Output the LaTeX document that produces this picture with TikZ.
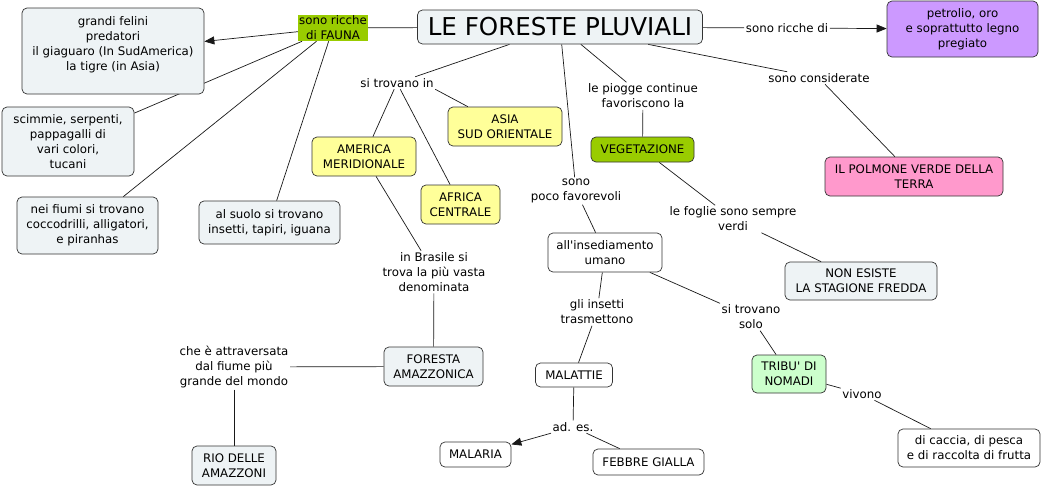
\documentclass[tikz,border=0pt]{standalone}
\usepackage{fontspec}
\setmainfont{DejaVu Sans}
\usetikzlibrary{arrows.meta, positioning}
\definecolor{boxgray}{RGB}{238, 243, 245}
\definecolor{faunagreen}{RGB}{153, 204, 0}
\definecolor{yellow1}{RGB}{255, 255, 153}
\definecolor{violet1}{RGB}{204, 153, 255}
\definecolor{pink1}{RGB}{255, 153, 204}
\definecolor{mint1}{RGB}{204, 255, 204}
\pgfdeclarelayer{background}
\pgfsetlayers{background,main}

\begin{document}
\begin{tikzpicture}[x=1pt, y=-1pt,
  concept/.style={draw=black!80, rounded corners=5pt, fill=boxgray, align=center, inner sep=1.5pt, line width=0.7pt, font=\fontsize{11.8}{15}\selectfont},
  link/.style={align=center, inner sep=1.5pt, font=\fontsize{11.8}{15}\selectfont},
  conn/.style={draw=black!90, line width=0.7pt},
  arr/.style={conn, -{Triangle[length=10pt, width=8pt]}}
]
  \useasboundingbox (0,0) rectangle (1042,488);

  % concepts
  \node[concept, minimum width=285pt, minimum height=34pt, font=\fontsize{24.6}{28}\selectfont] (title) at (560,27) {LE FORESTE PLUVIALI};
  \node[concept, minimum width=182pt, minimum height=86pt] (felini) at (113,51) {grandi felini\\predatori\\il giaguaro (In SudAmerica)\\la tigre (in Asia)\\\mbox{}};
  \node[concept, minimum width=132pt, minimum height=69pt] (scimmie) at (68,141.5) {scimmie, serpenti,\\pappagalli di\\vari colori,\\tucani};
  \node[concept, minimum width=141pt, minimum height=57pt] (fiumi) at (87.5,225.5) {nei fiumi si trovano\\coccodrilli, alligatori,\\e piranhas};
  \node[concept, minimum width=141pt, minimum height=43pt] (suolo) at (269.5,222.5) {al suolo si trovano\\insetti, tapiri, iguana};
  \node[concept, fill=yellow1, minimum width=104pt, minimum height=39pt] (america) at (364,156.5) {AMERICA\\MERIDIONALE};
  \node[concept, fill=yellow1, minimum width=114pt, minimum height=39pt] (asia) at (505,126.5) {ASIA\\SUD ORIENTALE};
  \node[concept, fill=yellow1, minimum width=79pt, minimum height=39pt] (africa) at (460.5,204.5) {AFRICA\\CENTRALE};
  \node[concept, minimum width=99pt, minimum height=39pt] (foresta) at (433.5,366.5) {FORESTA\\AMAZZONICA};
  \node[concept, minimum width=84pt, minimum height=39pt] (rio) at (234,465.5) {RIO DELLE\\AMAZZONI};
  \node[concept, fill=white, minimum width=114pt, minimum height=39pt] (insed) at (605,252.5) {all\textquotesingle insediamento\\umano};
  \node[concept, fill=white, minimum width=77pt, minimum height=24pt] (malattie) at (574,375) {MALATTIE};
  \node[concept, fill=white, minimum width=71pt, minimum height=25pt] (malaria) at (475.5,454.5) {MALARIA};
  \node[concept, fill=white, minimum width=111pt, minimum height=26pt] (febbre) at (648.5,462) {FEBBRE GIALLA};
  \node[concept, fill=mint1, minimum width=74pt, minimum height=38pt] (tribu) at (789,374) {TRIBU\textquotesingle{} DI\\NOMADI};
  \node[concept, fill=white, minimum width=142pt, minimum height=38pt] (caccia) at (969,448) {di caccia, di pesca\\e di raccolta di frutta};
  \node[concept, fill=faunagreen, minimum width=103pt, minimum height=25pt] (veg) at (642.5,149.5) {VEGETAZIONE};
  \node[concept, fill=pink1, minimum width=178pt, minimum height=39pt] (polmone) at (914,176.5) {IL POLMONE VERDE DELLA\\TERRA};
  \node[concept, fill=violet1, minimum width=151pt, minimum height=56pt] (petrolio) at (962.5,29) {petrolio, oro\\e soprattutto legno\\pregiato};
  \node[concept, minimum width=152pt, minimum height=38pt] (nonesiste) at (861,281) {NON ESISTE\\LA STAGIONE FREDDA};

  % linking phrases
  \node[link, fill=faunagreen, inner sep=1pt] (fauna) at (333,28) {sono ricche\\di FAUNA};
  \node[link] (trovano) at (397,83) {si trovano in};
  \node[link] (brasile) at (434,272) {in Brasile si\\trova la più vasta\\denominata};
  \node[link] (attraversata) at (234,367) {che è attraversata\\dal fiume più\\grande del mondo};
  \node[link] (poco) at (576,191) {sono\\poco favorevoli};
  \node[link] (insetti) at (597,312) {gli insetti\\trasmettono};
  \node[link] (ades) at (573,427) {ad. es.};
  \node[link] (solo) at (751,317) {si trovano\\solo};
  \node[link] (vivono) at (862,394) {vivono};
  \node[link] (piogge) at (643,96) {le piogge continue\\favoriscono la};
  \node[link] (considerate) at (819,78) {sono considerate};
  \node[link] (ricche) at (787,28) {sono ricche di};
  \node[link] (foglie) at (733,219) {le foglie sono sempre\\verdi};

  % connectors
  \begin{pgfonlayer}{background}
    \fill[white] (0,0) rectangle (1042,488);
    \draw[conn] (title) -- (fauna);
    \draw[arr] (fauna) -- (felini);
    \draw[conn] (fauna) -- (scimmie);
    \draw[conn] (fauna) -- (fiumi);
    \draw[conn] (fauna) -- (suolo);
    \draw[conn] (title) -- (trovano);
    \draw[conn] (trovano) -- (america);
    \draw[conn] (trovano) -- (africa);
    \draw[conn] (trovano.south east) -- (asia);
    \draw[conn] (america) -- (brasile);
    \draw[conn] (brasile) -- (foresta);
    \draw[conn] (foresta) -- (attraversata);
    \draw[conn] (attraversata) -- (rio);
    \draw[conn] (title) -- (poco);
    \draw[conn] (poco) -- (insed);
    \draw[conn] (insed) -- (insetti);
    \draw[conn] (insetti) -- (malattie);
    \draw[conn] (malattie) -- (ades);
    \draw[arr] (ades) -- (malaria);
    \draw[conn] (ades) -- (febbre);
    \draw[conn] (insed) -- (solo);
    \draw[conn] (solo) -- (tribu);
    \draw[conn] (tribu) -- (vivono);
    \draw[conn] (vivono) -- (caccia);
    \draw[conn] (title) -- (piogge);
    \draw[conn] (piogge) -- (veg);
    \draw[conn] (veg) -- (foglie);
    \draw[conn] (foglie) -- (nonesiste);
    \draw[conn] (title) -- (considerate);
    \draw[conn] (considerate) -- (polmone);
    \draw[conn] (title) -- (ricche);
    \draw[arr] (ricche) -- (petrolio);
  \end{pgfonlayer}
\end{tikzpicture}
\end{document}
